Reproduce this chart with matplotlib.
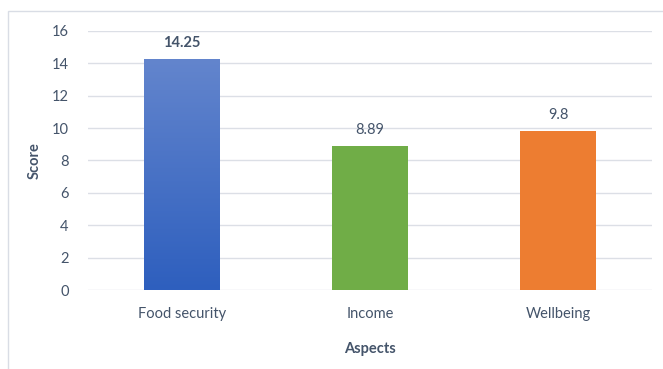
import numpy as np
import matplotlib.pyplot as plt
from matplotlib.patches import Rectangle
from matplotlib.colors import LinearSegmentedColormap

aspects = ['Food security', 'Income', 'Wellbeing']
scores = [14.25, 8.89, 9.8]
score_labels = ['14.25', '8.89', '9.8']
label_bold = [True, False, False]
yticks = [0, 2, 4, 6, 8, 10, 12, 14, 16]

txt = '#44546a'
plt.rcParams['font.family'] = ['Lato', 'DejaVu Sans']

fig = plt.figure(figsize=(6.63, 3.69), dpi=100)
ax = fig.add_axes([88/663, 1 - 290/369, 564/663, 259/369])

x = np.arange(len(aspects))
bars = ax.bar(x, scores, width=0.4, color=['#4472c4', '#70ad47', '#ed7d31'], zorder=2)

# gradient fill for the first bar, light at top to darker at bottom
b = bars[0]
b.set_facecolor('none')
grad = LinearSegmentedColormap.from_list('g', ['#2e5fbe', '#6385cd'])
img = ax.imshow(np.linspace(0, 1, 256).reshape(-1, 1), cmap=grad, origin='lower',
                extent=[b.get_x(), b.get_x() + b.get_width(), 0, b.get_height()],
                aspect='auto', zorder=2)
img.set_clip_path(b)

for xi, v, s, bold in zip(x, scores, score_labels, label_bold):
    ax.text(xi, v + 0.55, s, ha='center', va='bottom', fontsize=10.5, color=txt,
            fontweight='bold' if bold else 'normal')

ax.set_xlim(-0.5, 2.5)
ax.set_ylim(0, 16)
ax.set_yticks(yticks)
ax.set_xticks(x)
ax.set_xticklabels(aspects)
ax.tick_params(length=0, labelsize=10.5, labelcolor=txt)
ax.tick_params(axis='x', pad=12)
ax.tick_params(axis='y', pad=14)
ax.grid(axis='y', color='#dcdfe6', linewidth=1, zorder=0)
for s in ax.spines.values():
    s.set_visible(False)
ax.set_xlabel('Aspects', fontsize=10.5, fontweight='bold', color=txt, labelpad=15)
ax.set_ylabel('Score', fontsize=10.5, fontweight='bold', color=txt, labelpad=7)

fig.patches.append(Rectangle((8/663, -0.1), 1.2, 1 - 11/369 + 0.1, transform=fig.transFigure,
                             fill=False, edgecolor='#d9dde5', linewidth=1))

fig.savefig('out.png', dpi=100)
